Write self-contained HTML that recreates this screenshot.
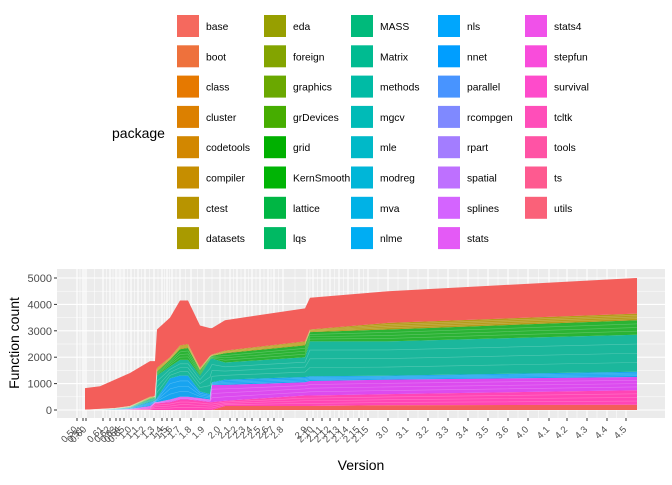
<!DOCTYPE html>
<html><head><style>body{margin:0;background:#fff}svg text{font-family:"Liberation Sans",sans-serif}</style></head>
<body><svg id="s" width="672" height="480" xmlns="http://www.w3.org/2000/svg"></svg>
<script>
const S=document.getElementById('s');let h='';
function hcl(H,C,L){const hr=H*Math.PI/180;const a=Math.cos(hr)*C,b=Math.sin(hr)*C;
const Xn=95.047,Yn=100,Zn=108.883;const un=4*Xn/(Xn+15*Yn+3*Zn),vn=9*Yn/(Xn+15*Yn+3*Zn);
const Y=L>8?Yn*Math.pow((L+16)/116,3):Yn*L/903.3;const u=a/(13*L)+un,v=b/(13*L)+vn;
const X=9*Y*u/(4*v),Z=(12-3*u-20*v)*Y/(4*v);
let r=(3.2406*X-1.5372*Y-0.4986*Z)/100,g=(-0.9689*X+1.8758*Y+0.0415*Z)/100,bb=(0.0557*X-0.2040*Y+1.0570*Z)/100;
const f=c=>{c=c>0.0031308?1.055*Math.pow(c,1/2.4)-0.055:12.92*c;return Math.round(Math.max(0,Math.min(1,c))*255)};
return `rgb(${f(r)},${f(g)},${f(bb)})`;}
const names=["base","boot","class","cluster","codetools","compiler","ctest","datasets","eda","foreign","graphics","grDevices","grid","KernSmooth","lattice","lqs","MASS","Matrix","methods","mgcv","mle","modreg","mva","nlme","nls","nnet","parallel","rcompgen","rpart","spatial","splines","stats","stats4","stepfun","survival","tcltk","tools","ts","utils"];
const n=names.length;const cols=names.map((_,i)=>hcl(15+360*i/n,110,62));
h+=`<text x="112" y="138" font-size="14" fill="#000">package</text>`;
names.forEach((nm,i)=>{const c=Math.floor(i/8),r=i%8;const x=177+c*87,y=15+r*30.3;
h+=`<rect x="${x}" y="${y}" width="22" height="22" fill="${cols[i]}"/><text x="${x+29}" y="${y+15}" font-size="10.3" fill="#000">${nm}</text>`;});
const X0=57,X1=665,Y0=269,Y1=418;const yv=v=>410-v*0.0264;
h+=`<rect x="${X0}" y="${Y0}" width="${X1-X0}" height="${Y1-Y0}" fill="#ebebeb"/>`;
for(let v=500;v<=5000;v+=1000)h+=`<line x1="${X0}" x2="${X1}" y1="${yv(v)}" y2="${yv(v)}" stroke="#fff" stroke-width="0.5"/>`;
for(let v=0;v<=5000;v+=1000)h+=`<line x1="${X0}" x2="${X1}" y1="${yv(v)}" y2="${yv(v)}" stroke="#fff" stroke-width="1.1"/>`;
const ticks=[[77,"0.50"],[83,"0.51"],[86,"0.60"],[103,"0.61"],[110,"0.62"],[116,"0.63"],[120,"0.64"],[124,"0.65"],[131,"1.0"],[138,"1.1"],[145,"1.2"],[154,"1.3"],[162,"1.4"],[167,"1.5"],[172,"1.6"],[180,"1.7"],[191,"1.8"],[204,"1.9"],[220,"2.0"],[230,"2.1"],[237,"2.2"],[245,"2.3"],[252,"2.4"],[260,"2.5"],[268,"2.6"],[274,"2.7"],[283,"2.8"],[307,"2.9"],[313,"2.10"],[322,"2.11"],[330,"2.12"],[339,"2.13"],[348,"2.14"],[359,"2.15"],[368,"2.15"],[388,"3.0"],[408,"3.1"],[428,"3.2"],[448,"3.3"],[468,"3.4"],[488,"3.5"],[508,"3.6"],[528,"4.0"],[549,"4.1"],[567,"4.2"],[587,"4.3"],[607,"4.4"],[626,"4.5"]];
for(let i=0;i<ticks.length-1;i++){const m=(ticks[i][0]+ticks[i+1][0])/2;h+=`<line x1="${m}" x2="${m}" y1="${Y0}" y2="${Y1}" stroke="#fff" stroke-width="0.5"/>`;}
ticks.forEach(t=>{h+=`<line x1="${t[0]}" x2="${t[0]}" y1="${Y0}" y2="${Y1}" stroke="#fff" stroke-width="1.1"/>`;});
const P=[[85,[0,0,0,0,0,0,0,830]],[100,[0,0,0,10,20,30,40,900]],[115,[0,0,0,30,50,60,70,1150]],[130,[0,20,40,80,110,130,150,1400]],[150,[0,50,150,300,400,450,500,1850]],[155,[0,250,300,350,450,500,520,1850]],[157,[0,250,300,450,1300,1450,1600,3050]],[170,[0,300,400,1200,1650,1900,2000,3500]],[180,[0,400,500,1300,1900,2300,2450,4150]],[188,[0,400,500,1300,1900,2350,2500,4150]],[200,[0,350,450,700,1300,1500,1600,3200]],[210,[0,300,400,600,1900,2000,2050,3100]],[212,[0,300,950,1050,1950,2050,2100,3100]],[225,[150,350,950,1150,1800,2150,2250,3400]],[305,[150,550,1050,1250,2000,2450,2600,3850]],[310,[150,550,1100,1280,2600,2950,3050,4250]],[388,[180,600,1150,1300,2600,3050,3300,4500]],[637,[200,750,1250,1450,2850,3400,3650,5000]]];
const lc=["#F35E5A","#FF45B5","#DC4BEF","#18A4F0","#1BB79C","#2BB334","#B59A1A","#F35E5A"];
for(let k=0;k<8;k++){let pts=P.map(p=>`${p[0]},${yv(p[1][k])}`);let lo=P.slice().reverse().map(p=>`${p[0]},${yv(k?p[1][k-1]:0)}`);
h+=`<polygon points="${pts.concat(lo).join(' ')}" fill="${lc[k]}"/>`;}
for(let k=1;k<7;k++){for(let j=1;j<4;j++){let pts=P.map(p=>`${p[0]},${yv(p[1][k-1]+(p[1][k]-p[1][k-1])*j/4)}`);h+=`<polyline points="${pts.join(' ')}" fill="none" stroke="#fff" stroke-opacity="0.25" stroke-width="0.6"/>`;}}
for(let v=0;v<=5000;v+=1000){h+=`<line x1="${X0-3}" x2="${X0}" y1="${yv(v)}" y2="${yv(v)}" stroke="#333"/><text x="${X0-5}" y="${yv(v)+4}" font-size="11" fill="#4d4d4d" text-anchor="end">${v}</text>`;}
ticks.forEach(t=>{h+=`<line x1="${t[0]}" x2="${t[0]}" y1="${Y1}" y2="${Y1+3}" stroke="#333"/><text transform="translate(${t[0]+1},${Y1+12}) rotate(-45)" font-size="9.5" fill="#4d4d4d" text-anchor="end">${t[1]}</text>`;});
h+=`<text x="361" y="470" font-size="14" text-anchor="middle">Version</text>`;
h+=`<text transform="translate(19,343) rotate(-90)" font-size="14" text-anchor="middle">Function count</text>`;
S.innerHTML=h;
</script></body></html>
